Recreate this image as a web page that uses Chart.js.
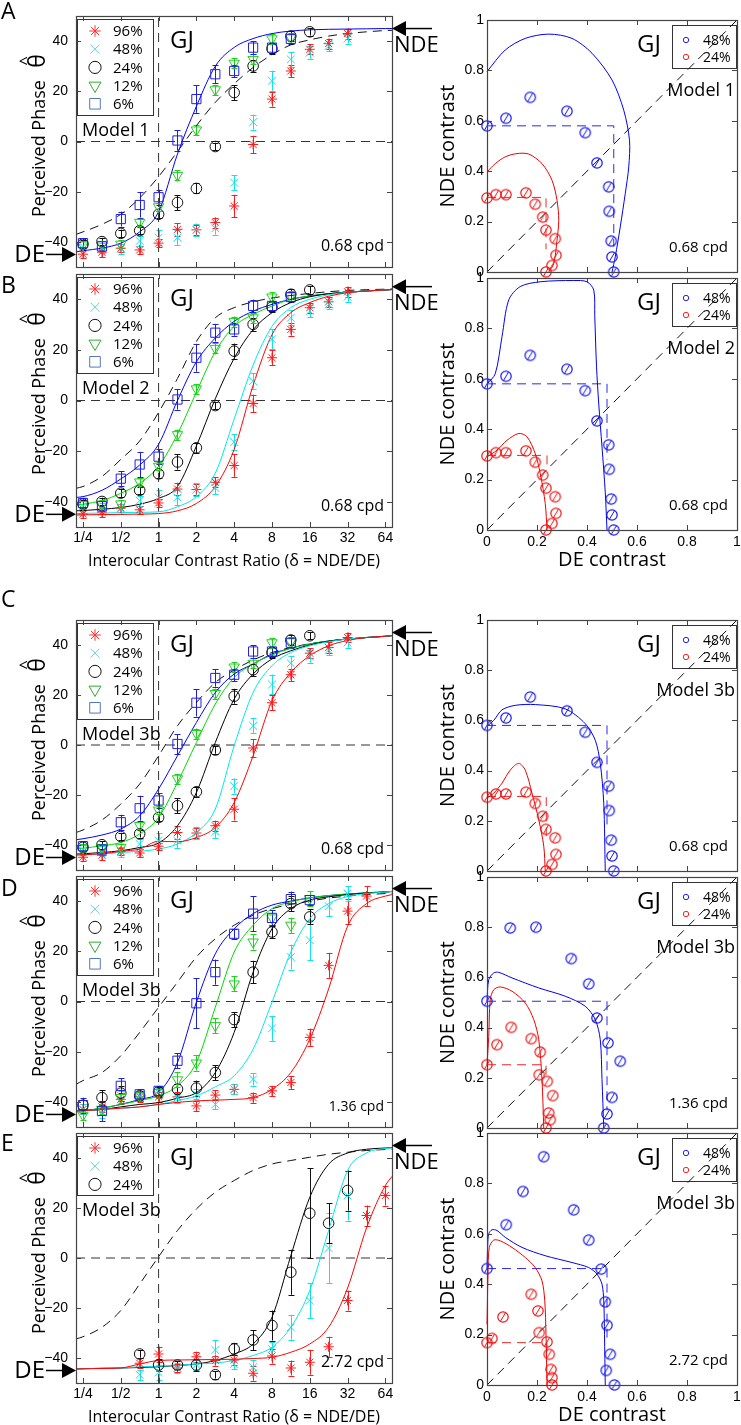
<!DOCTYPE html>
<html><head><meta charset="utf-8">
<script src="https://cdn.jsdelivr.net/npm/chart.js@4.4.1/dist/chart.umd.min.js"></script>
<style>
html,body{margin:0;padding:0;background:#fff;}
#wrap{position:relative;width:741px;height:1425px;overflow:hidden;background:#fff;}
canvas{position:absolute;}
</style></head><body><div id="wrap"></div>
<script>
// ================= DATA =================
const xTickValues = [0.25, 0.5, 1, 2, 4, 8, 16, 32, 64];
const xTickLabels = ['1/4','1/2','1','2','4','8','16','32','64'];
const yTickValues = [-40, -20, 0, 20, 40];
const rTickValues = [0, 0.2, 0.4, 0.6, 0.8, 1];
const rTickLabels = ['0','0.2','0.4','0.6','0.8','1'];
const seriesNames = {r:'96%', c:'48%', k:'24%', g:'12%', b:'6%'};

// interocular contrast ratios of the measurements and of the sampled model curves
const dataDelta  = [0.25,0.354,0.5,0.707,1,1.414,2,2.83,4,5.66,8,11.3,16,22.6,32,45.3,64];
const curveDelta = [0.22,0.25,0.354,0.5,0.707,1,1.414,2,2.83,4,5.66,8,11.3,16,22.6,32,45.3,64,80];

// ---- perceived phase, 0.68 cpd (panels A-C) ----
const c068_96  = [-44.9,-44.1,-42.5,-43.2,-40.5,-35.0,-35.2,-32.3,-25.7,-1.2,16.9,28.1,36.7,39.0,43.0,null,null];
const c068_96e = [1.5,2,1.5,1.5,1.5,2.5,2,2,4.5,3.5,3,2.5,2,2,2,0,0];
const c068_48  = [-41.8,-42.5,-42.8,-39.6,-38.3,-38.3,-35.2,-34.6,-16.4,7.7,24.2,32.7,35.4,38.0,41.0,null,null];
const c068_48e = [2,2,2,2,3,3,2.5,2.5,3,3,4,3,2.5,2,2,0,0];
const c068_24  = [-40.9,-39.9,-36.6,-35.5,-29.0,-24.3,-18.7,-2.0,19.5,30.1,37.0,42.0,43.7,null,null,null,null];
const c068_24e = [1.5,1.5,1.5,1.5,1.5,3,2,1.5,3,2.5,2,2,1.5,0,0,0,0];
const c068_12  = [-41.2,-41.0,-40.9,-32.2,-26.0,-13.5,4.6,20.6,31.2,32.7,40.9,41.3,null,null,null,null,null];
const c068_12e = [1.5,1.5,1.5,1.5,1.5,2,2,2,2,2,2,2,0,0,0,0,0];
const c068_6   = [-40.5,-41.8,-30.9,-25.3,-22.2,0.4,16.9,26.8,28.1,37.4,37.4,40.9,null,null,null,null,null];
const c068_6e  = [2,2,3,5,3,4,5.5,3.5,2.5,2.5,2,2,0,0,0,0,0];

// ---- perceived phase, 1.36 cpd (panel D) ----
const c136_96  = [-43,-42,-39,-38,-38,-38,-41.6,-37.3,-35,-38.3,-35.6,-32.3,-14.3,14.4,36,42,null];
const c136_96e = [2,2,2,2,2,2,2,2,2,2,2,2.5,3.5,5,5,4,0];
const c136_48  = [-43,-44.3,-37.6,-37.6,-36.3,-38.3,-37,-41,-35,-31,-10.7,17.7,24.4,38,43,null,null];
const c136_48e = [2,2,2,2,2,2,2,2,2,2.5,5,5,8,4,3,0,0];
const c136_24  = [-41.3,-38.3,-36.5,-37.6,-36,-34.9,-34.5,-28.3,-7.2,11.7,27.7,39,33.7,null,null,null,null];
const c136_24e = [2,3,3,2,2,2,3,3,3,4.5,2.5,3,3,0,0,0,0];
const c136_12  = [-45.3,-43,-38.3,-37.6,-36.3,-31.2,-24.5,-9.6,7,23.7,33.3,30.4,41,null,null,null,null];
const c136_12e = [2,2,2,2,2,3,3,3,3,3,3,3,3,0,0,0,0];
const c136_6   = [-41.3,-43.6,-33.6,-37,-35.6,-23.6,-0.7,11.7,27,35,33.3,40.8,40.4,null,null,null,null];
const c136_6e  = [3,4,3,2,2,3,10,5,2,7,3,3,2,0,0,0,0];

// ---- perceived phase, 2.72 cpd (panel E) ----
const c272_96  = [null,null,null,-42.1,-38.4,-44,-39.5,-41,-40.8,-46.1,-39.2,-44,-41.7,-35.5,-17,17,25];
const c272_96e = [0,0,0,2,3,1.5,2,2,2,3,3,3,5,4,4,4,4];
const c272_48  = [null,null,null,-46.7,-45.7,-44,-42.7,-36.8,-42.4,-43.7,-36.4,-27.7,-17,4,25,null,null];
const c272_48e = [0,0,0,2,3,2,2,4,2,3,3,5,7,14,10,0,0];
const c272_24  = [null,null,null,-38.4,-42.8,-42.8,-42.8,-46.7,-36.4,-32.8,-27,-5.7,17.9,13.9,27,null,null];
const c272_24e = [0,0,0,1.5,2.5,1.5,2.5,1.5,2.5,4,6,9,18,8,8,0,0];

// ---- model curves (sampled at curveDelta) ----
const fitA_6  = [-44,-43.5,-42.5,-40.5,-36,-28,-5,14,30,37.5,41,43,44,44.5,44.7,44.8,44.9,45,45];
const refA    = [-37,-36,-33,-29,-22.5,-14,-4,6.3,15.6,23,29.5,34.6,38.5,40.5,42,43,43.7,44.2,44.4];

const fitB_6  = [-38.3,-38,-35.5,-31,-25.5,-17.3,0,15.3,24.7,31.3,35.3,38,40,41.3,42.2,42.8,43.3,43.7,44];
const fitB_12 = [-41.3,-41,-39.5,-36.7,-32.7,-26,-13.3,3.3,19.3,29.3,34,37.3,40,41.3,42.2,42.8,43.3,43.7,44];
const fitB_24 = [-43.6,-43.5,-43,-42.3,-41,-38.7,-34,-18,0.7,16.7,28,34.7,38.7,41,42.2,42.8,43.3,43.7,44];
const fitB_48 = [-44.7,-44.6,-44.5,-44.3,-44.2,-44,-42,-38,-28.7,-7.3,14,29.3,36.7,40,41.8,42.8,43.3,43.7,44];
const fitB_96 = [-45.3,-45.2,-45.1,-45,-44.9,-44.7,-43.6,-40.7,-34,-19.3,6,26,34.7,38.7,41.2,42.6,43.3,43.7,44];
const refB    = [-34.7,-34,-30,-23.3,-16,-4.7,8.7,23.3,32.7,36.7,39,40.5,41.5,42.3,43,43.5,43.8,44,44.2];

const fitC_6  = [-37.9,-37.5,-36,-33.6,-28.3,-17.6,-4.3,9,21,28.4,32.4,36.4,38.7,40.4,41.6,42.4,43,43.5,44];
const fitC_12 = [-41.6,-41.3,-40.3,-39,-35.6,-29,-15,1,16.4,27,32.4,36,38.7,40.4,41.6,42.4,43,43.5,44];
const fitC_24 = [-43.6,-43.5,-43,-42.3,-41,-39.2,-32.3,-19,1,18.4,28.4,34.4,37.7,40,41.5,42.4,43,43.5,44];
const fitC_48 = [-44,-43.9,-43.5,-43,-42.5,-41.6,-39.6,-35,-25.6,-0.3,21,31.7,37,39.7,41.3,42.4,43,43.5,44];
const fitC_96 = [-44,-43.9,-43.5,-42.5,-41.6,-38.5,-38.7,-37,-33,-23,-4.3,17.7,29,35.7,39.7,41.8,43,43.5,44];
const refC    = [-35,-34,-30,-23.6,-15.6,-4.3,7.7,17,25,30,34,37,39,40.5,41.5,42.5,43,43.5,44];

const fitD_6  = [-43.6,-43.5,-42.5,-41,-39,-36.3,-24.3,-0.3,19,29,35,38.4,40,41.3,42.2,42.8,43.3,43.7,44];
const fitD_12 = [-43.6,-43.5,-42.5,-41,-39.5,-37.6,-33.6,-24.3,-2.3,19.7,30.4,37,39.7,41.3,42.2,42.8,43.3,43.7,44];
const fitD_24 = [-43.6,-43.5,-43,-42,-41,-40.3,-38.5,-36.3,-28.3,-12.3,11.7,29,37,40.4,41.7,42.6,43.2,43.6,44];
const fitD_48 = [-43.6,-43.5,-43,-42.5,-42,-41,-39.5,-37.6,-34,-29.6,-19,-0.3,19.7,33,39,41.8,43,43.6,44];
const fitD_96 = [-43.6,-43.5,-43,-42.5,-42,-41,-40.2,-39.6,-39.3,-39,-38.3,-35,-28.3,-15,5,30,39,42,43];
const refD    = [-33,-31.5,-28.3,-21.6,-12.3,-2.3,7.7,17.7,25,30.4,34.4,37,38.7,40,41.2,42,42.6,43,43.3];

const fitE_24 = [-44.4,-44.3,-44.1,-44,-43.8,-43.5,-43,-42.4,-41,-38.4,-34.4,-23.7,0.9,24.3,37.5,42,43.5,44,44.3];
const fitE_48 = [-44.4,-44.3,-44.1,-44,-43.5,-43.3,-43,-42.4,-42,-41,-39,-35.7,-27.7,-13,11,35,42,43.8,44.2];
const fitE_96 = [-44.4,-44.3,-44.2,-44,-42.4,-41,-40.8,-40.7,-40.6,-40.5,-40.2,-39.7,-37.7,-34.4,-27.7,-12,12,29,35];
const refE    = [-32.4,-31.5,-27.7,-21,-10.4,0.5,11,19.6,26.3,31,35,37.6,39,40.3,41.5,42.3,43,43.4,43.7];

// ---- binocular contrast space (right column) ----
const r068_48x = [0,0.076,0.173,0.32,0.393,0.44,0.487,0.489,0.497,0.5,0.507];
const r068_48y = [0.58,0.61,0.693,0.638,0.553,0.433,0.338,0.241,0.123,0.06,0];
const r068_24x = [0,0.036,0.076,0.156,0.193,0.223,0.236,0.273,0.276,0.26,0.236];
const r068_24y = [0.294,0.307,0.307,0.314,0.269,0.218,0.166,0.132,0.066,0.026,0];
const r136_48x = [0,0.093,0.196,0.337,0.407,0.44,0.484,0.533,0.5,0.48,0.467];
const r136_48y = [0.505,0.797,0.8,0.675,0.574,0.438,0.339,0.266,0.122,0.056,0];
const r136_24x = [0,0.04,0.097,0.177,0.213,0.209,0.241,0.263,0.247,0.253,0.236];
const r136_24y = [0.252,0.332,0.401,0.356,0.303,0.212,0.186,0.129,0.06,0.033,0];
const r272_48x = [0,0.077,0.144,0.227,0.347,0.407,0.457,0.473,0.48,0.493,0.477,0.51];
const r272_48y = [0.462,0.636,0.768,0.906,0.695,0.575,0.46,0.33,0.237,0.122,0.058,0];
const r272_24x = [0,0.02,0.064,0.177,0.204,0.209,0.24,0.249,0.256,0.26,0.26];
const r272_24y = [0.168,0.185,0.27,0.36,0.294,0.208,0.171,0.122,0.062,0.029,0];

const rfitA_48x = [0,0.073,0.153,0.247,0.34,0.42,0.5,0.547,0.57,0.567,0.553,0.533,0.513,0.5];
const rfitA_48y = [0.795,0.881,0.927,0.944,0.927,0.868,0.762,0.642,0.523,0.417,0.311,0.179,0.06,0];
const rfitA_24x = [0,0.033,0.073,0.12,0.167,0.22,0.26,0.28,0.287,0.28,0.267,0.247];
const rfitA_24y = [0.397,0.43,0.457,0.47,0.468,0.43,0.364,0.285,0.205,0.126,0.033,0];
const rfitB_48x = [0,0.033,0.06,0.087,0.133,0.213,0.347,0.4,0.427,0.431,0.438,0.447,0.46,0.473,0.48];
const rfitB_48y = [0.579,0.62,0.767,0.913,0.966,0.985,0.99,0.985,0.952,0.85,0.65,0.5,0.33,0.15,0];
const rfitB_24x = [0,0.04,0.08,0.127,0.16,0.193,0.213,0.233,0.24];
const rfitB_24y = [0.29,0.317,0.356,0.383,0.37,0.303,0.224,0.105,0];
const rfitC_48x = [0,0.027,0.06,0.113,0.193,0.313,0.393,0.433,0.453,0.467,0.473];
const rfitC_48y = [0.577,0.6,0.642,0.66,0.663,0.646,0.587,0.521,0.429,0.27,0];
const rfitC_24x = [0,0.027,0.06,0.093,0.127,0.153,0.18,0.207,0.227,0.233];
const rfitC_24y = [0.29,0.31,0.35,0.402,0.429,0.402,0.31,0.204,0.099,0];
const rfitD_48x = [0,0.007,0.027,0.047,0.1,0.207,0.313,0.393,0.433,0.453,0.46,0.467];
const rfitD_48y = [0.505,0.591,0.618,0.62,0.598,0.558,0.525,0.485,0.432,0.352,0.193,0];
const rfitD_24x = [0,0.007,0.013,0.027,0.053,0.1,0.153,0.187,0.207,0.22,0.227];
const rfitD_24y = [0.252,0.365,0.511,0.551,0.562,0.545,0.498,0.432,0.352,0.193,0];
const rfitE_48x = [0,0.003,0.007,0.02,0.04,0.073,0.14,0.233,0.34,0.407,0.44,0.46,0.467,0.47,0.473];
const rfitE_48y = [0.46,0.56,0.6,0.616,0.613,0.586,0.546,0.513,0.486,0.466,0.44,0.4,0.334,0.2,0];
const rfitE_24x = [0,0.004,0.009,0.027,0.053,0.1,0.153,0.193,0.22,0.231,0.236,0.24];
const rfitE_24y = [0.24,0.44,0.546,0.575,0.572,0.546,0.506,0.466,0.413,0.334,0.2,0];

// monocular thresholds [DE contrast, NDE contrast, lower end of DE line]
const thrA_48 = [0.507,0.58,0.10], thrA_24 = [0.236,0.296,0.09];
const thrB_48 = [0.48,0.58,0.28],  thrB_24 = [0.24,0.296,0.25];
const thrC_48 = [0.48,0.58,0.17],  thrC_24 = [0.237,0.297,0.12];
const thrD_48 = [0.48,0.505,0.07], thrD_24 = [0.236,0.252,0.19];
const thrE_48 = [0.48,0.462,0.18], thrE_24 = [0.24,0.168,0.13];

// ================= STYLE / LAYOUT =================
const XMIN = -2.185, XMAX = 6.175;
const COL = {r:'#ff1c1c', c:'#16e0e8', k:'#111111', g:'#1ed21e', b:'#1f1fe0'};
const CURVE = {r:'#ff0000', c:'#00e6ee', k:'#000000', g:'#00d800', b:'#0000ff'};
const LEG = {r:'#ff3030', c:'#66cccc', k:'#111111', g:'#33aa33', b:'#5577bb'};
const MARK = {
  r:{pointStyle:'star', radius:5, rotation:0},
  c:{pointStyle:'crossRot', radius:5.5, rotation:0},
  k:{pointStyle:'circle', radius:5.3, rotation:0},
  g:{pointStyle:'triangle', radius:6, rotation:180},
  b:{pointStyle:'rect', radius:6.5, rotation:0}
};
const FRAME = '#444';
const TXT = '"Open Sans", "DejaVu Sans", sans-serif';
const TICKF = '"Liberation Sans", Arial, sans-serif';
const wrap = document.getElementById('wrap');

function makeCanvas(left, top, w, h){
  const c = document.createElement('canvas');
  c.width = w; c.height = h;
  c.style.left = left + 'px'; c.style.top = top + 'px';
  c.style.width = w + 'px'; c.style.height = h + 'px';
  wrap.appendChild(c);
  return c.getContext('2d');
}

function drawMarker(ctx, key, x, y, color, s){
  const m = MARK[key], r = m.radius * (s || 1);
  ctx.save(); ctx.strokeStyle = color; ctx.lineWidth = 1; ctx.beginPath();
  if (m.pointStyle === 'circle') ctx.arc(x, y, r, 0, Math.PI*2);
  else if (m.pointStyle === 'rect') { const h = r/Math.SQRT2; ctx.rect(x-h, y-h, 2*h, 2*h); }
  else if (m.pointStyle === 'triangle') { ctx.moveTo(x, y + r); ctx.lineTo(x - r*0.866, y - r*0.5); ctx.lineTo(x + r*0.866, y - r*0.5); ctx.closePath(); }
  else if (m.pointStyle === 'crossRot') { const h = r*0.7071; ctx.moveTo(x-h,y-h); ctx.lineTo(x+h,y+h); ctx.moveTo(x-h,y+h); ctx.lineTo(x+h,y-h); }
  else { for (let k=0;k<4;k++){ const a=k*Math.PI/4; ctx.moveTo(x+Math.cos(a)*r, y+Math.sin(a)*r); ctx.lineTo(x-Math.cos(a)*r, y-Math.sin(a)*r);} }
  ctx.stroke(); ctx.restore();
}

function slashCircle(color){
  const c = document.createElement('canvas'); c.width = 16; c.height = 16;
  const g = c.getContext('2d'); g.strokeStyle = color; g.lineWidth = 1.2;
  g.beginPath(); g.arc(8, 8, 5.2, 0, Math.PI*2); g.stroke();
  g.lineWidth = 1;
  g.beginPath(); g.moveTo(5.4, 12.4); g.lineTo(10.6, 3.6); g.stroke();
  return c;
}
const imgBlue = slashCircle('#1414f0');
const imgRed = slashCircle('#f01414');

function markerDS(key, ys, errs){
  const pts = [], e = [];
  ys.forEach((y, i) => { if (y !== null) { pts.push({x: Math.log2(dataDelta[i]), y}); e.push(errs[i]); } });
  const ord = {b:0, g:1, k:2, c:3, r:4}[key];
  return {data: pts, errs: e, showLine: false, borderColor: COL[key], backgroundColor: 'rgba(0,0,0,0)',
    pointBorderColor: COL[key], pointBackgroundColor: 'rgba(0,0,0,0)', pointStyle: MARK[key].pointStyle,
    pointRadius: MARK[key].radius, pointRotation: MARK[key].rotation, pointBorderWidth: 1, clip: false, order: ord};
}
function curveDS(color, ys, dash, ord){
  return {data: ys.map((y, i) => ({x: Math.log2(curveDelta[i]), y})), showLine: true, pointRadius: 0,
    borderColor: color, borderWidth: 1, borderDash: dash || [], cubicInterpolationMode: 'monotone', clip: 0, order: ord || 10};
}
function lineDS(pts, color, dash, ord){
  return {data: pts, showLine: true, pointRadius: 0, borderColor: color, borderWidth: 1, borderDash: dash || [], tension: 0, clip: false, order: ord};
}

function drawErrorBars(chart){
  const ctx = chart.ctx, ys = chart.scales.y;
  chart.data.datasets.forEach((ds, i) => {
    if (!ds.errs) return;
    const meta = chart.getDatasetMeta(i);
    ctx.save(); ctx.strokeStyle = ds.borderColor; ctx.lineWidth = 1;
    meta.data.forEach((el, j) => {
      const e = ds.errs[j]; if (!e) return;
      const v = ds.data[j].y;
      const y1 = ys.getPixelForValue(v + e), y2 = ys.getPixelForValue(v - e);
      const x = Math.round(el.x) + 0.5;
      ctx.beginPath(); ctx.moveTo(x, y1); ctx.lineTo(x, y2);
      ctx.moveTo(x-3, Math.round(y1)+0.5); ctx.lineTo(x+3, Math.round(y1)+0.5);
      ctx.moveTo(x-3, Math.round(y2)+0.5); ctx.lineTo(x+3, Math.round(y2)+0.5);
      ctx.stroke();
    });
    ctx.restore();
  });
}

function drawFrame(chart, xt, yt){
  const ctx = chart.ctx, a = chart.chartArea, xs = chart.scales.x, ys = chart.scales.y;
  ctx.save(); ctx.strokeStyle = FRAME; ctx.lineWidth = 1.2;
  ctx.strokeRect(Math.round(a.left)+0.5, Math.round(a.top)+0.5, Math.round(a.right-a.left), Math.round(a.bottom-a.top));
  ctx.lineWidth = 1; ctx.beginPath();
  xt.forEach(v => { const x = Math.round(xs.getPixelForValue(v))+0.5;
    ctx.moveTo(x, a.bottom); ctx.lineTo(x, a.bottom-5); ctx.moveTo(x, a.top); ctx.lineTo(x, a.top+5); });
  yt.forEach(v => { const y = Math.round(ys.getPixelForValue(v))+0.5;
    ctx.moveTo(a.left, y); ctx.lineTo(a.left+5, y); ctx.moveTo(a.right, y); ctx.lineTo(a.right-5, y); });
  ctx.stroke(); ctx.restore();
}

// ================= LEFT COLUMN =================
const leftPanels = [
  {top:16, bottom:267, letter:'A', letterY:19, model:'Model 1', cpd:'0.68 cpd', cpdSize:16, showX:false,
   keys:['r','c','k','g','b'], data:{r:[c068_96,c068_96e], c:[c068_48,c068_48e], k:[c068_24,c068_24e], g:[c068_12,c068_12e], b:[c068_6,c068_6e]},
   fits:{b:fitA_6}, ref:refA},
  {top:274, bottom:527, letter:'B', letterY:293, model:'Model 2', cpd:'0.68 cpd', cpdSize:16, showX:true,
   keys:['r','c','k','g','b'], data:{r:[c068_96,c068_96e], c:[c068_48,c068_48e], k:[c068_24,c068_24e], g:[c068_12,c068_12e], b:[c068_6,c068_6e]},
   fits:{r:fitB_96, c:fitB_48, k:fitB_24, g:fitB_12, b:fitB_6}, ref:refB},
  {top:620, bottom:870, letter:'C', letterY:607, model:'Model 3b', cpd:'0.68 cpd', cpdSize:16, showX:false,
   keys:['r','c','k','g','b'], data:{r:[c068_96,c068_96e], c:[c068_48,c068_48e], k:[c068_24,c068_24e], g:[c068_12,c068_12e], b:[c068_6,c068_6e]},
   fits:{r:fitC_96, c:fitC_48, k:fitC_24, g:fitC_12, b:fitC_6}, ref:refC},
  {top:876, bottom:1127, letter:'D', letterY:896, model:'Model 3b', cpd:'1.36 cpd', cpdSize:14, showX:false,
   keys:['r','c','k','g','b'], data:{r:[c136_96,c136_96e], c:[c136_48,c136_48e], k:[c136_24,c136_24e], g:[c136_12,c136_12e], b:[c136_6,c136_6e]},
   fits:{r:fitD_96, c:fitD_48, k:fitD_24, g:fitD_12, b:fitD_6}, ref:refD},
  {top:1133, bottom:1383, letter:'E', letterY:1151, model:'Model 3b', cpd:'2.72 cpd', cpdSize:16, showX:true,
   keys:['r','c','k'], data:{r:[c272_96,c272_96e], c:[c272_48,c272_48e], k:[c272_24,c272_24e]},
   fits:{r:fitE_96, c:fitE_48, k:fitE_24}, ref:refE}
];

const L_LEFT = 76, L_RIGHT = 392, L_W = 470, L_TOPM = 40, L_BOTM = 50;

leftPanels.forEach(p => {
  const h = p.bottom - p.top;
  const ctx = makeCanvas(0, p.top - L_TOPM, L_W, h + L_TOPM + L_BOTM);
  const canvasTop = p.top - L_TOPM;
  const datasets = [];
  p.keys.forEach(k => datasets.push(markerDS(k, p.data[k][0], p.data[k][1])));
  Object.keys(p.fits).forEach(k => datasets.push(curveDS(CURVE[k], p.fits[k], [], 10)));
  datasets.push(curveDS('#111', p.ref, [9, 6], 11));
  datasets.push(lineDS([{x:XMIN, y:0}, {x:XMAX, y:0}], '#333', [9, 6], 12));
  datasets.push(lineDS([{x:0, y:-50}, {x:0, y:50}], '#333', [9, 6], 12));

  const plugin = {
    id: 'leftPanel',
    beforeDatasetsDraw(chart){ drawErrorBars(chart); },
    afterDatasetsDraw(chart){
      const c = chart.ctx, a = chart.chartArea;
      const n = p.keys.length, bx = a.left + 1, by = a.top + 3, bw = 76, bh = n === 5 ? 96 : 59;
      c.save();
      c.fillStyle = '#fff'; c.fillRect(bx, by, bw, bh);
      c.strokeStyle = '#333'; c.lineWidth = 1; c.strokeRect(bx + 0.5, by + 0.5, bw, bh);
      c.font = '15px ' + TXT; c.textAlign = 'left'; c.textBaseline = 'middle'; c.fillStyle = '#000';
      p.keys.forEach((k, i) => {
        const y = by + 12 + i * 18.2;
        drawMarker(c, k, bx + 18, y, LEG[k], 1.15);
        c.fillText(seriesNames[k], bx + 36, y + 1);
      });
      c.font = '18px ' + TXT; c.textBaseline = 'alphabetic';
      c.fillText(p.model, a.left + 6, by + bh + 21);
      c.restore();
    },
    afterDraw(chart){
      const c = chart.ctx, a = chart.chartArea, ys = chart.scales.y;
      drawFrame(chart, xTickValues.map(v => Math.log2(v)), yTickValues);
      c.save(); c.fillStyle = '#000';
      c.font = '24px ' + TXT; c.textAlign = 'left'; c.textBaseline = 'alphabetic';
      c.fillText('GJ', a.left + 94, a.top + 32);
      c.font = p.cpdSize + 'px ' + TXT; c.textAlign = 'right';
      c.fillText(p.cpd, a.right - 8, a.bottom - 16);
      // panel letter
      c.font = '23px ' + TXT; c.textAlign = 'left';
      c.fillText(p.letter, 1, p.letterY - canvasTop);
      // DE arrow
      const yDE = ys.getPixelForValue(-45);
      c.strokeStyle = '#000'; c.lineWidth = 1.5;
      c.beginPath(); c.moveTo(46, yDE); c.lineTo(64, yDE); c.stroke();
      c.beginPath(); c.moveTo(a.left, yDE); c.lineTo(a.left - 14, yDE - 7.5); c.lineTo(a.left - 14, yDE + 7.5); c.closePath(); c.fill();
      c.font = '24px ' + TXT; c.textAlign = 'right'; c.textBaseline = 'middle';
      c.fillText('DE', 45, yDE + 1);
      // NDE arrow
      const yN = ys.getPixelForValue(45);
      c.beginPath(); c.moveTo(a.right + 12, yN); c.lineTo(a.right + 40, yN); c.stroke();
      c.beginPath(); c.moveTo(a.right, yN); c.lineTo(a.right + 14, yN - 7.5); c.lineTo(a.right + 14, yN + 7.5); c.closePath(); c.fill();
      c.font = '22px ' + TXT; c.textAlign = 'left'; c.textBaseline = 'alphabetic';
      c.fillText('NDE', a.right + 2, yN + 23);
      // y title
      c.save(); c.translate(45, a.top + 201); c.rotate(-Math.PI/2);
      c.font = '18px ' + TXT; c.textAlign = 'left'; c.fillText('Perceived Phase', 0, 0);
      c.font = '23px ' + TXT; c.textAlign = 'center'; c.fillText('\u03B8', 156, 0);
      c.font = '17px ' + TXT; c.fillText('^', 156, -14);
      c.restore();
      if (p.showX) {
        c.font = '16px ' + TXT; c.textAlign = 'center';
        c.fillText('Interocular Contrast Ratio (\u03B4 = NDE/DE)', (a.left + a.right)/2, a.bottom + 39);
      }
      c.restore();
    }
  };

  new Chart(ctx, {
    type: 'scatter',
    data: {datasets},
    options: {
      responsive: false, animation: false, devicePixelRatio: 1, events: [],
      layout: {padding: {left: 0, top: L_TOPM, right: L_W - L_RIGHT, bottom: 0}},
      plugins: {legend: {display: false}, tooltip: {enabled: false}},
      scales: {
        x: {type: 'linear', min: XMIN, max: XMAX,
          afterBuildTicks: s => { s.ticks = xTickValues.map(v => ({value: Math.log2(v)})); },
          afterFit: s => { s.height = L_BOTM; },
          grid: {display: false, drawTicks: false}, border: {display: false},
          ticks: {display: p.showX, autoSkip: false, maxRotation: 0, padding: 3, color: '#000',
            font: {family: TICKF, size: 14}, callback: (v, i) => xTickLabels[i]}},
        y: {type: 'linear', min: -50, max: 50,
          afterBuildTicks: s => { s.ticks = yTickValues.map(v => ({value: v})); },
          afterFit: s => { s.width = L_LEFT; },
          grid: {display: false, drawTicks: false}, border: {display: false},
          ticks: {padding: 8, color: '#000', font: {family: TICKF, size: 14},
            callback: v => v < 0 ? '\u2212' + (-v) : String(v)}}
      }
    },
    plugins: [plugin]
  });
});

// ================= RIGHT COLUMN =================
const rightPanels = [
  {top:20, bottom:272, model:'Model 1', cpd:'0.68 cpd', showX:false,
   d48:[r068_48x, r068_48y], d24:[r068_24x, r068_24y], f48:[rfitA_48x, rfitA_48y], f24:[rfitA_24x, rfitA_24y], t48:thrA_48, t24:thrA_24},
  {top:278, bottom:530, model:'Model 2', cpd:'0.68 cpd', showX:true,
   d48:[r068_48x, r068_48y], d24:[r068_24x, r068_24y], f48:[rfitB_48x, rfitB_48y], f24:[rfitB_24x, rfitB_24y], t48:thrB_48, t24:thrB_24},
  {top:620, bottom:871, model:'Model 3b', cpd:'0.68 cpd', showX:false,
   d48:[r068_48x, r068_48y], d24:[r068_24x, r068_24y], f48:[rfitC_48x, rfitC_48y], f24:[rfitC_24x, rfitC_24y], t48:thrC_48, t24:thrC_24},
  {top:877, bottom:1128, model:'Model 3b', cpd:'1.36 cpd', showX:false,
   d48:[r136_48x, r136_48y], d24:[r136_24x, r136_24y], f48:[rfitD_48x, rfitD_48y], f24:[rfitD_24x, rfitD_24y], t48:thrD_48, t24:thrD_24},
  {top:1133, bottom:1385, model:'Model 3b', cpd:'2.72 cpd', showX:true,
   d48:[r272_48x, r272_48y], d24:[r272_24x, r272_24y], f48:[rfitE_48x, rfitE_48y], f24:[rfitE_24x, rfitE_24y], t48:thrE_48, t24:thrE_24}
];
const R_CANVAS_LEFT = 430, R_LEFT = 487, R_RIGHT = 737, R_W = 320, R_TOPM = 20, R_BOTM = 45;

function xy(xs, ys){ return xs.map((x, i) => ({x, y: ys[i]})); }

rightPanels.forEach(p => {
  const h = p.bottom - p.top;
  const ctx = makeCanvas(R_CANVAS_LEFT, p.top - R_TOPM, R_W, h + R_TOPM + R_BOTM);
  const datasets = [
    {data: xy(p.d48[0], p.d48[1]), showLine: false, pointStyle: imgBlue, pointRadius: 5, clip: false, order: 0},
    {data: xy(p.d24[0], p.d24[1]), showLine: false, pointStyle: imgRed, pointRadius: 5, clip: false, order: 1},
    {data: xy(p.f48[0], p.f48[1]), showLine: true, pointRadius: 0, borderColor: '#0000ee', borderWidth: 1, tension: 0.3, clip: false, order: 10},
    {data: xy(p.f24[0], p.f24[1]), showLine: true, pointRadius: 0, borderColor: '#ee0000', borderWidth: 1, tension: 0.3, clip: false, order: 10},
    lineDS([{x:0, y:p.t48[1]}, {x:p.t48[0], y:p.t48[1]}, {x:p.t48[0], y:p.t48[2]}], '#2a2aee', [9, 6], 11),
    lineDS([{x:0, y:p.t24[1]}, {x:p.t24[0], y:p.t24[1]}, {x:p.t24[0], y:p.t24[2]}], '#ee2a2a', [9, 6], 11),
    lineDS([{x:0, y:0}, {x:1, y:1}], '#111', [9, 6], 12)
  ];
  const plugin = {
    id: 'rightPanel',
    beforeDatasetsDraw(chart){
      const c = chart.ctx, a = chart.chartArea;
      const bx = a.left + 185, by = a.top + 5, bw = 64, bh = 43;
      c.save(); c.fillStyle = '#fff'; c.fillRect(bx, by, bw, bh);
      c.strokeStyle = '#333'; c.lineWidth = 1; c.strokeRect(bx + 0.5, by + 0.5, bw, bh);
      c.font = '14px ' + TXT; c.textAlign = 'left'; c.textBaseline = 'middle';
      [['#2020ff', '48%', 15], ['#ff2020', '24%', 32]].forEach(([col, t, dy]) => {
        c.strokeStyle = col; c.beginPath(); c.arc(bx + 14, by + dy, 2.7, 0, Math.PI*2); c.stroke();
        c.fillStyle = '#000'; c.fillText(t, bx + 31, by + dy + 1);
      });
      c.restore();
    },
    afterDraw(chart){
      const c = chart.ctx, a = chart.chartArea;
      drawFrame(chart, rTickValues, rTickValues);
      c.save(); c.fillStyle = '#000'; c.textBaseline = 'alphabetic';
      c.font = '24px ' + TXT; c.textAlign = 'left'; c.fillText('GJ', a.left + 150, a.top + 32);
      c.font = '18px ' + TXT; c.textAlign = 'right'; c.fillText(p.model, a.right - 2, a.top + 76);
      c.font = '15px ' + TXT; c.fillText(p.cpd, a.right - 9, a.bottom - 20);
      c.save(); c.translate(24, (a.top + a.bottom)/2); c.rotate(-Math.PI/2);
      c.font = '20px ' + TXT; c.textAlign = 'center'; c.fillText('NDE contrast', 0, 0);
      c.restore();
      if (p.showX) {
        c.font = '20px ' + TXT; c.textAlign = 'center';
        c.fillText('DE contrast', (a.left + a.right)/2, a.bottom + 36);
      }
      c.restore();
    }
  };
  new Chart(ctx, {
    type: 'scatter',
    data: {datasets},
    options: {
      responsive: false, animation: false, devicePixelRatio: 1, events: [],
      layout: {padding: {left: 0, top: R_TOPM, right: R_W - (R_RIGHT - R_CANVAS_LEFT), bottom: 0}},
      plugins: {legend: {display: false}, tooltip: {enabled: false}},
      scales: {
        x: {type: 'linear', min: 0, max: 1,
          afterBuildTicks: s => { s.ticks = rTickValues.map(v => ({value: v})); },
          afterFit: s => { s.height = R_BOTM; },
          grid: {display: false, drawTicks: false}, border: {display: false},
          ticks: {display: p.showX, autoSkip: false, maxRotation: 0, padding: 4, color: '#000',
            font: {family: TICKF, size: 14}, callback: (v, i) => rTickLabels[i]}},
        y: {type: 'linear', min: 0, max: 1,
          afterBuildTicks: s => { s.ticks = rTickValues.map(v => ({value: v})); },
          afterFit: s => { s.width = R_LEFT - R_CANVAS_LEFT; },
          grid: {display: false, drawTicks: false}, border: {display: false},
          ticks: {padding: 3, color: '#000', font: {family: TICKF, size: 14}, callback: (v, i) => rTickLabels[i]}}
      }
    },
    plugins: [plugin]
  });
});
</script></body></html>
